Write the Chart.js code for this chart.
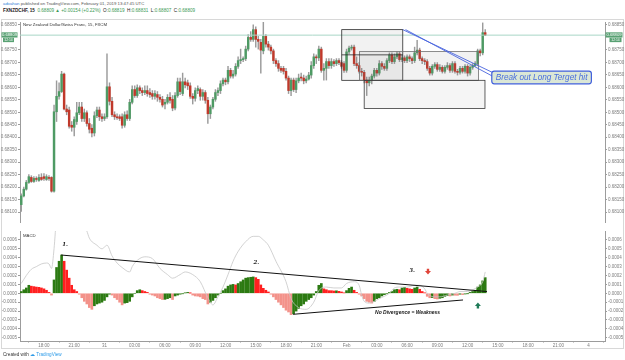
<!DOCTYPE html>
<html>
<head>
<meta charset="utf-8">
<script src="https://cdn.jsdelivr.net/npm/chart.js@4"></script>
<style>
  body { margin: 0; background: #fff; width: 625px; height: 360px; overflow: hidden; position: relative;
         font-family: "Liberation Sans", Arial, sans-serif; }
  .t { position: absolute; white-space: nowrap; line-height: 1; }
  #frame { position: absolute; left: 1px; top: 19px; width: 623px; height: 330px; border: 1px solid #d8d8d8; box-sizing: border-box; }
  canvas { position: absolute; left: 0; }
</style>
</head>
<body>
<div id="frame"></div>
<div class="t" style="left:3px;top:2px;font-size:4.3px;color:#555"><span style="color:#2f80d8">advahan</span> published on TradingView.com, February 01, 2019 13:47:45 UTC</div>
<div class="t" style="left:3px;top:9px;font-size:4.6px;color:#222"><b>FXNZDCHF, 15</b>&nbsp; <span style="color:#3c9a56">0.68809 ▲ +0.00154 (+0.22%)</span>&nbsp; O:<span style="color:#3c9a56">0.68819</span>&nbsp; H:<span style="color:#3c9a56">0.68831</span>&nbsp; L:<span style="color:#3c9a56">0.68807</span>&nbsp; C:<span style="color:#3c9a56">0.68809</span></div>
<canvas id="priceChart" width="625" height="212" style="top:19px"></canvas>
<canvas id="macdChart" width="625" height="122" style="top:230px"></canvas>
<div class="t" style="left:23px;top:23px;font-size:4.3px;color:#333">New Zealand Dollar/Swiss Franc, 15, FXCM</div>
<div class="t" style="left:23px;top:234px;font-size:4.3px;color:#333">MACD</div>
<div class="t" style="left:3px;top:353px;font-size:4.6px;color:#333">Created with <span style="color:#2e9be8">&#9729; TradingView</span></div>
<script>
/* NZDCHF 15m with MACD pane */

// time slots (15 min each), first slot = 30 Jan 15:45
let slots = Array.from({length: 232}, (_, i) => i);
let timeTickSlots = [9, 21, 33, 45, 57, 69, 81, 93, 105, 117, 129, 141, 153, 165, 177, 189, 201, 213, 225];
let timeTickLabels = ["18:00", "21:00", "31", "03:00", "06:00", "09:00", "12:00", "15:00", "18:00", "21:00",
  "Feb", "03:00", "06:00", "09:00", "12:00", "15:00", "18:00", "21:00", "4"];

let priceTicks = [0.681, 0.6815, 0.682, 0.6825, 0.683, 0.6835, 0.684, 0.6845, 0.685, 0.6855,
  0.686, 0.6865, 0.687, 0.6875, 0.6885];
let macdTicks = [-0.0005, -0.0004, -0.0003, -0.0002, -0.0001, 0, 0.0001, 0.0002, 0.0003, 0.0004, 0.0005, 0.0006];

let opens = [
  0.68130,0.68165,0.68192,0.68219,0.68239,0.68223,0.68235,0.68227,0.68239,0.68242,
  0.68231,0.68239,0.68239,0.68184,0.68502,0.68564,0.68583,0.68653,0.68513,0.68509,
  0.68448,0.68440,0.68463,0.68498,0.68521,0.68475,0.68498,0.68455,0.68436,0.68417,
  0.68486,0.68509,0.68482,0.68475,0.68482,0.68602,0.68544,0.68490,0.68482,0.68482,
  0.68482,0.68448,0.68490,0.68475,0.68540,0.68591,0.68567,0.68598,0.68587,0.68579,
  0.68587,0.68579,0.68575,0.68564,0.68571,0.68560,0.68552,0.68533,0.68540,0.68560,
  0.68552,0.68517,0.68567,0.68622,0.68575,0.68622,0.68618,0.68606,0.68564,0.68556,
  0.68587,0.68591,0.68564,0.68579,0.68548,0.68494,0.68521,0.68552,0.68579,0.68587,
  0.68614,0.68629,0.68622,0.68668,0.68645,0.68653,0.68684,0.68707,0.68711,0.68715,
  0.68753,0.68800,0.68792,0.68831,0.68792,0.68780,0.68746,0.68804,0.68773,0.68761,
  0.68746,0.68707,0.68695,0.68676,0.68676,0.68664,0.68637,0.68587,0.68629,0.68591,
  0.68626,0.68641,0.68637,0.68626,0.68633,0.68649,0.68687,0.68722,0.68718,0.68753,
  0.68668,0.68676,0.68703,0.68687,0.68703,0.68695,0.68707,0.68699,0.68695,0.68668,
  0.68742,0.68757,0.68761,0.68695,0.68687,0.68664,0.68660,0.68629,0.68618,0.68629,
  0.68645,0.68668,0.68657,0.68695,0.68684,0.68676,0.68707,0.68730,0.68703,0.68722,
  0.68734,0.68711,0.68718,0.68707,0.68722,0.68715,0.68707,0.68738,0.68749,0.68715,
  0.68707,0.68703,0.68676,0.68657,0.68684,0.68691,0.68672,0.68680,0.68664,0.68680,
  0.68687,0.68668,0.68695,0.68664,0.68660,0.68676,0.68664,0.68684,0.68657,0.68680,
  0.68687,0.68695,0.68746,0.68738,0.68819
];
let highs = [
  0.68173,0.68200,0.68227,0.68250,0.68246,0.68242,0.68242,0.68250,0.68254,0.68254,
  0.68250,0.68246,0.68242,0.68529,0.68626,0.68618,0.68664,0.68657,0.68529,0.68521,
  0.68463,0.68482,0.68540,0.68540,0.68540,0.68513,0.68506,0.68475,0.68451,0.68502,
  0.68521,0.68521,0.68494,0.68494,0.68734,0.68618,0.68560,0.68502,0.68494,0.68490,
  0.68494,0.68502,0.68506,0.68552,0.68606,0.68606,0.68610,0.68606,0.68598,0.68606,
  0.68606,0.68595,0.68587,0.68587,0.68583,0.68571,0.68564,0.68552,0.68571,0.68579,
  0.68567,0.68579,0.68637,0.68637,0.68657,0.68637,0.68629,0.68618,0.68575,0.68598,
  0.68606,0.68598,0.68591,0.68587,0.68560,0.68529,0.68560,0.68591,0.68598,0.68626,
  0.68637,0.68637,0.68684,0.68676,0.68668,0.68695,0.68722,0.68753,0.68722,0.68765,
  0.68811,0.68823,0.68850,0.68842,0.68804,0.68792,0.68862,0.68811,0.68784,0.68769,
  0.68753,0.68715,0.68707,0.68684,0.68684,0.68676,0.68645,0.68637,0.68637,0.68637,
  0.68653,0.68657,0.68649,0.68645,0.68660,0.68703,0.68734,0.68730,0.68765,0.68761,
  0.68695,0.68715,0.68715,0.68715,0.68711,0.68715,0.68715,0.68707,0.68703,0.68753,
  0.68765,0.68769,0.68769,0.68722,0.68699,0.68676,0.68668,0.68641,0.68641,0.68653,
  0.68676,0.68676,0.68707,0.68703,0.68695,0.68715,0.68738,0.68738,0.68734,0.68742,
  0.68742,0.68730,0.68726,0.68730,0.68730,0.68722,0.68761,0.68788,0.68757,0.68722,
  0.68715,0.68711,0.68684,0.68691,0.68699,0.68699,0.68691,0.68687,0.68687,0.68699,
  0.68695,0.68703,0.68703,0.68672,0.68684,0.68684,0.68691,0.68691,0.68687,0.68695,
  0.68703,0.68753,0.68753,0.68858,0.68831
];
let lows = [
  0.68103,0.68161,0.68188,0.68215,0.68219,0.68219,0.68223,0.68223,0.68227,0.68227,
  0.68227,0.68227,0.68180,0.68180,0.68463,0.68552,0.68579,0.68509,0.68490,0.68436,
  0.68424,0.68405,0.68451,0.68490,0.68463,0.68463,0.68444,0.68417,0.68401,0.68405,
  0.68478,0.68467,0.68463,0.68467,0.68475,0.68529,0.68482,0.68471,0.68471,0.68467,
  0.68436,0.68440,0.68467,0.68467,0.68533,0.68560,0.68560,0.68575,0.68567,0.68571,
  0.68564,0.68560,0.68552,0.68552,0.68544,0.68540,0.68521,0.68513,0.68533,0.68536,
  0.68506,0.68509,0.68560,0.68571,0.68567,0.68598,0.68591,0.68556,0.68533,0.68544,
  0.68575,0.68548,0.68548,0.68536,0.68455,0.68475,0.68513,0.68544,0.68567,0.68575,
  0.68606,0.68610,0.68614,0.68637,0.68637,0.68645,0.68676,0.68695,0.68703,0.68707,
  0.68746,0.68784,0.68784,0.68761,0.68753,0.68657,0.68734,0.68761,0.68749,0.68734,
  0.68695,0.68684,0.68664,0.68660,0.68653,0.68629,0.68575,0.68567,0.68583,0.68579,
  0.68618,0.68626,0.68614,0.68618,0.68629,0.68637,0.68676,0.68695,0.68707,0.68660,
  0.68629,0.68629,0.68676,0.68676,0.68684,0.68687,0.68691,0.68676,0.68660,0.68660,
  0.68734,0.68749,0.68687,0.68676,0.68657,0.68645,0.68618,0.68567,0.68606,0.68614,
  0.68637,0.68645,0.68649,0.68672,0.68668,0.68668,0.68699,0.68695,0.68695,0.68715,
  0.68703,0.68703,0.68699,0.68699,0.68703,0.68695,0.68699,0.68730,0.68707,0.68695,
  0.68691,0.68668,0.68649,0.68649,0.68676,0.68664,0.68664,0.68657,0.68657,0.68672,
  0.68660,0.68660,0.68657,0.68649,0.68653,0.68657,0.68657,0.68645,0.68649,0.68672,
  0.68684,0.68687,0.68726,0.68730,0.68807
];
let closes = [
  0.68165,0.68192,0.68219,0.68242,0.68223,0.68235,0.68231,0.68239,0.68231,0.68235,
  0.68242,0.68235,0.68184,0.68502,0.68564,0.68583,0.68653,0.68513,0.68502,0.68444,
  0.68440,0.68471,0.68498,0.68521,0.68475,0.68498,0.68455,0.68432,0.68417,0.68486,
  0.68509,0.68482,0.68475,0.68482,0.68602,0.68544,0.68490,0.68482,0.68478,0.68475,
  0.68448,0.68490,0.68475,0.68540,0.68591,0.68567,0.68598,0.68587,0.68579,0.68587,
  0.68575,0.68571,0.68564,0.68575,0.68560,0.68552,0.68529,0.68540,0.68560,0.68548,
  0.68517,0.68567,0.68622,0.68583,0.68622,0.68610,0.68606,0.68564,0.68556,0.68587,
  0.68595,0.68564,0.68579,0.68548,0.68494,0.68521,0.68552,0.68579,0.68587,0.68614,
  0.68629,0.68622,0.68668,0.68645,0.68653,0.68684,0.68707,0.68711,0.68715,0.68753,
  0.68800,0.68792,0.68831,0.68792,0.68784,0.68749,0.68804,0.68773,0.68761,0.68746,
  0.68707,0.68695,0.68676,0.68668,0.68664,0.68637,0.68587,0.68629,0.68591,0.68626,
  0.68637,0.68637,0.68626,0.68633,0.68649,0.68687,0.68722,0.68718,0.68753,0.68668,
  0.68676,0.68703,0.68687,0.68703,0.68695,0.68707,0.68699,0.68684,0.68668,0.68742,
  0.68757,0.68761,0.68695,0.68687,0.68664,0.68660,0.68629,0.68618,0.68629,0.68645,
  0.68668,0.68657,0.68695,0.68684,0.68676,0.68707,0.68730,0.68703,0.68722,0.68734,
  0.68711,0.68718,0.68707,0.68722,0.68715,0.68707,0.68738,0.68749,0.68715,0.68707,
  0.68703,0.68676,0.68657,0.68684,0.68691,0.68672,0.68680,0.68664,0.68680,0.68687,
  0.68668,0.68695,0.68664,0.68660,0.68676,0.68664,0.68684,0.68657,0.68680,0.68687,
  0.68695,0.68746,0.68738,0.68819,0.68809
];

let macdHist = [
  0.00002,0.00004,0.00006,0.00009,0.00008,0.000075,0.00007,0.000067,0.00006,0.00005,
  0.000034,0.00001,-0.00002,0.00015,0.00029,0.00036,0.00043,0.00036,0.00026,0.00017,
  0.00009,0.00004,0.00002,-0.00001,-0.00005,-0.00009,-0.00012,-0.00016,-0.00018,-0.00014,
  -0.00012,-0.00011,-0.0001,-0.00008,-0.00004,-0.00001,-0.00002,-0.00005,-0.00007,-0.0001,
  -0.00013,-0.00011,-0.000105,-0.00009,-0.00004,0,0.00003,0.00004,0.00003,0.00002,
  0.00001,-0.00001,-0.00002,-0.00003,-0.00005,-0.00006,-0.00007,-0.000068,-0.00006,-0.00005,
  -0.00007,-0.00003,-0.00002,-0.00001,-0.000004,0.000004,0.00001,0.000002,-0.00002,-0.00003,
  -0.000032,-0.00004,-0.00006,-0.00007,-0.00012,-0.0001,-0.00008,-0.00005,-0.00002,0,
  0.00003,0.00005,0.00008,0.000094,0.0001,0.000094,0.00011,0.00013,0.00015,0.00017,
  0.000176,0.00018,0.000184,0.000176,0.000157,0.000094,0.000056,0.000034,0.000015,-0.00001,
  -0.00004,-0.00007,-0.0001,-0.00013,-0.00016,-0.00019,-0.00021,-0.00024,-0.00023,-0.0002,
  -0.00017,-0.00014,-0.00012,-0.00009,-0.00007,-0.00005,-0.00002,0.00002,0.00009,0.00011,
  0.00005,0.00004,0.00003,0.000029,0.000026,0.000028,0.000022,0.000015,0.000004,0.00003,
  0.000056,0.00007,0.000034,0.00001,-0.00001,-0.00003,-0.00006,-0.00009,-0.0001,-0.00011,
  -0.00009,-0.00006,-0.00005,-0.00003,-0.000015,-0.000004,0.00001,0.00002,0.00004,0.000045,
  0.00004,0.00006,0.000067,0.000056,0.00005,0.000045,0.00006,0.00007,0.000045,0.00002,
  0.000004,-0.000034,-0.00005,-0.000048,-0.00006,-0.000064,-0.000056,-0.00005,-0.000034,-0.000026,
  -0.00003,-0.00002,-0.000022,-0.000023,-0.00001,-0.000015,-0.000008,-0.000003,0.00001,0.00002,
  0.000034,0.00007,0.000094,0.00014,0.000176
];

// grey MACD line, read at these slots
let macdLineSlots = [0, 2, 4, 6, 8, 10, 11, 12, 13, 14, 16, 18, 20, 22, 24, 26, 27, 30, 32, 33, 34, 36, 38, 40,
  43, 44, 46, 49, 52, 55, 58, 60, 63, 65, 68, 71, 74, 76, 78, 80, 82, 84, 86, 89, 92, 94, 96, 98, 101, 105,
  107, 110, 113, 116, 118, 121, 124, 127, 129, 132, 134, 135, 136, 138, 140, 142, 146, 148, 150, 153, 156,
  158, 160, 161, 164, 166, 169, 172, 174, 177, 179, 181, 183, 184];
let macdLineValues = [0.00011, 0.0002, 0.00027, 0.0003, 0.00033, 0.00034, 0.00033, 0.00028, 0.0005, 0.00085,
  0.001, 0.00105, 0.001, 0.0009, 0.0008, 0.0007, 0.00062, 0.00054, 0.0005, 0.00052, 0.00054, 0.00042, 0.00034,
  0.00029, 0.00024, 0.0003, 0.00037, 0.00041, 0.00039, 0.00028, 0.00021, 0.00017, 0.00021, 0.00024, 0.00021,
  0.00013, -0.00005, -0.00013, -0.00004, 0.00007, 0.00021, 0.00036, 0.00047, 0.00058, 0.00064, 0.00064, 0.0006,
  0.00054, 0.00036, 0.00013, -0.00006, -0.00016, -0.00018, -0.0001, 0.00003, 0.00007, 0.00006, 0.00006, 0.00011,
  0.00013, 0.00009, -0.00002, -0.00009, -0.00011, -0.00009, -0.00006, 0, 0.00006, 0.00007, 0.00007, 0.00009,
  0.00009, 0.00005, 0, -0.00004, -0.00004, -0.00002, 0, 0.00002, 0.00002, 0.00004, 0.00007, 0.00013, 0.00024];

// drawings, in slot / value coordinates
let priceBoxes = [
  {x0: 127.1, x1: 151.3, y0: 0.68831, y1: 0.68628, fill: "rgba(110,110,110,0.09)", stroke: "#2a2a2a"},
  {x0: 134.1, x1: 181.3, y0: 0.68743, y1: 0.68628, fill: "rgba(110,110,110,0.09)", stroke: "#707070"},
  {x0: 136.0, x1: 183.9, y0: 0.68628, y1: 0.68515, fill: "rgba(110,110,110,0.07)", stroke: "#3a3a3a"}
];
let calloutText = "Break out Long Terget hit";
let macdNotes = ["1.", "2.", "3."];
let divergenceText = "No Divergence = Weakness";

let axisFont = {family: "'Liberation Sans', Arial, sans-serif", size: 4.5};
let green = "#4e9a64", red = "#c0392b";

function candleColor(i) {
  return closes[i] >= opens[i] ? green : red;
}

function histColor(i) {
  let v = macdHist[i];
  let prev = i > 0 ? macdHist[i - 1] : 0;
  if (v >= prev) return "#2c7a12";
  return v >= 0 ? "#ff2020" : "#f3928a";
}

function squeeze(w) {
  return function (s) {
    s.width = w;
    s.paddingTop = 0;
    s.paddingBottom = 0;
  };
}

function valueAxis(position, min, max, ticks, digits) {
  return {
    type: "linear",
    position: position,
    min: min,
    max: max,
    afterBuildTicks: (s) => { s.ticks = ticks.map((v) => ({value: v})); },
    afterFit: squeeze(20),
    border: {color: "#9c9c9c"},
    grid: {display: true, drawOnChartArea: false, tickLength: 2, color: "#9c9c9c"},
    ticks: {font: axisFont, color: "#7c7c7c", padding: 1, callback: (v) => v.toFixed(digits)}
  };
}

function timeAxis(show) {
  return {
    type: "category",
    labels: slots,
    offset: true,
    display: show,
    afterBuildTicks: (s) => { s.ticks = timeTickSlots.map((v) => ({value: v})); },
    afterFit: (s) => { s.height = 7; s.paddingLeft = 0; s.paddingRight = 0; },
    border: {color: "#9c9c9c"},
    grid: {display: true, drawOnChartArea: false, tickLength: 1.5, color: "#9c9c9c"},
    ticks: {font: axisFont, color: "#7c7c7c", padding: 0.5, autoSkip: false, maxRotation: 0,
      callback: (v, idx) => timeTickLabels[idx]}
  };
}

function px(chart, slot) { return chart.scales.x.getPixelForValue(slot); }
function py(chart, v) { return chart.scales.y.getPixelForValue(v); }

function roundBox(ctx, x, y, w, h, r) {
  ctx.beginPath();
  ctx.moveTo(x + r, y);
  ctx.arcTo(x + w, y, x + w, y + h, r);
  ctx.arcTo(x + w, y + h, x, y + h, r);
  ctx.arcTo(x, y + h, x, y, r);
  ctx.arcTo(x, y, x + w, y, r);
  ctx.closePath();
}

function priceTag(ctx, x, y, w, text, size) {
  ctx.fillStyle = "#58a173";
  ctx.fillRect(x, y, w, size + 1);
  ctx.fillStyle = "#fff";
  ctx.font = size + "px 'Liberation Sans', Arial, sans-serif";
  ctx.textAlign = "center";
  ctx.textBaseline = "middle";
  ctx.fillText(text, x + w / 2, y + (size + 1) / 2 + 0.3);
}

let pricePane = {
  id: "pricePane",
  afterDatasetsDraw(chart) {
    let ctx = chart.ctx, a = chart.chartArea;
    ctx.save();
    ctx.beginPath();
    ctx.rect(a.left, a.top, a.right - a.left, a.bottom - a.top);
    ctx.clip();

    let last = py(chart, closes[closes.length - 1]);
    ctx.strokeStyle = "#a8d6c6";
    ctx.lineWidth = 1;
    ctx.beginPath();
    ctx.moveTo(a.left, last);
    ctx.lineTo(a.right, last);
    ctx.stroke();

    priceBoxes.forEach((b) => {
      let x0 = px(chart, b.x0), x1 = px(chart, b.x1);
      let y0 = py(chart, b.y0), y1 = py(chart, b.y1);
      ctx.fillStyle = b.fill;
      ctx.fillRect(x0, y0, x1 - x0, y1 - y0);
      ctx.strokeStyle = b.stroke;
      ctx.lineWidth = 0.8;
      ctx.strokeRect(x0, y0, x1 - x0, y1 - y0);
    });
    ctx.strokeStyle = "#2a2a2a";
    ctx.beginPath();
    ctx.moveTo(px(chart, 127.1), py(chart, 0.6873));
    ctx.lineTo(px(chart, 151.3), py(chart, 0.6873));
    ctx.stroke();

    // callout with its two leader lines
    ctx.strokeStyle = "#4763de";
    ctx.lineWidth = 0.9;
    ctx.beginPath();
    ctx.moveTo(px(chart, 151.3), py(chart, 0.68831));
    ctx.lineTo(px(chart, 186.8), py(chart, 0.68660));
    ctx.moveTo(px(chart, 152.4), py(chart, 0.68831));
    ctx.lineTo(px(chart, 186.8), py(chart, 0.68645));
    ctx.stroke();

    let cx0 = px(chart, 186.6), cx1 = px(chart, 226.1);
    let cy0 = py(chart, 0.68665), cy1 = py(chart, 0.68614);
    roundBox(ctx, cx0, cy0, cx1 - cx0, cy1 - cy0, 2.5);
    ctx.fillStyle = "#dbe7d6";
    ctx.fill();
    ctx.strokeStyle = "#4160dc";
    ctx.lineWidth = 1.2;
    ctx.stroke();
    ctx.fillStyle = "#4a6fdc";
    ctx.font = "italic 8.2px 'Liberation Sans', Arial, sans-serif";
    ctx.textAlign = "center";
    ctx.textBaseline = "middle";
    ctx.fillText(calloutText, (cx0 + cx1) / 2, (cy0 + cy1) / 2 + 0.3);
    ctx.restore();
  },
  afterDraw(chart) {
    let ctx = chart.ctx, a = chart.chartArea;
    let last = py(chart, closes[closes.length - 1]);
    ctx.save();
    priceTag(ctx, 1.5, last - 2.8, 16, closes[closes.length - 1].toFixed(5), 4.2);
    priceTag(ctx, 3, last + 2.6, 11, "12:14", 3.4);
    priceTag(ctx, a.right + 0.5, last - 2.8, 17, closes[closes.length - 1].toFixed(5), 4.2);
    priceTag(ctx, a.right + 4.5, last + 2.6, 12, "12:14", 3.4);
    ctx.restore();
  }
};

let macdPane = {
  id: "macdPane",
  afterDatasetsDraw(chart) {
    let ctx = chart.ctx;
    ctx.save();
    ctx.strokeStyle = "#111";
    ctx.lineWidth = 1;
    ctx.beginPath();
    ctx.moveTo(px(chart, 15.8), py(chart, 0.00043));
    ctx.lineTo(px(chart, 184.7), py(chart, 0.00002));
    ctx.moveTo(px(chart, 107.8), py(chart, -0.000236));
    ctx.lineTo(px(chart, 175.2), py(chart, -0.000075));
    ctx.stroke();

    ctx.fillStyle = "#222";
    ctx.font = "bold italic 5.5px 'DejaVu Serif', serif";
    ctx.textAlign = "center";
    ctx.textBaseline = "middle";
    ctx.fillText(macdNotes[0], px(chart, 17.4), py(chart, 0.00055));
    ctx.fillText(macdNotes[1], px(chart, 93.2), py(chart, 0.00034));
    ctx.fillText(macdNotes[2], px(chart, 155.0), py(chart, 0.00026));

    ctx.font = "bold italic 5px 'Liberation Sans', Arial, sans-serif";
    ctx.fillStyle = "#1a1a1a";
    ctx.fillText(divergenceText, px(chart, 153.2), py(chart, -0.00022));

    // red marker pointing down
    let rx = px(chart, 161.3), ry = py(chart, 0.00024);
    ctx.fillStyle = "#e0453a";
    ctx.beginPath();
    ctx.moveTo(rx - 1.2, ry - 3.2);
    ctx.lineTo(rx + 1.2, ry - 3.2);
    ctx.lineTo(rx + 1.2, ry - 1);
    ctx.lineTo(rx + 3, ry - 1);
    ctx.lineTo(rx, ry + 2.6);
    ctx.lineTo(rx - 3, ry - 1);
    ctx.lineTo(rx - 1.2, ry - 1);
    ctx.closePath();
    ctx.fill();

    // green marker pointing up
    let gx = px(chart, 181.1), gy = py(chart, -0.000137);
    ctx.fillStyle = "#1f7b58";
    ctx.beginPath();
    ctx.moveTo(gx, gy - 3);
    ctx.lineTo(gx + 3, gy + 0.6);
    ctx.lineTo(gx + 1.2, gy + 0.6);
    ctx.lineTo(gx + 1.2, gy + 3);
    ctx.lineTo(gx - 1.2, gy + 3);
    ctx.lineTo(gx - 1.2, gy + 0.6);
    ctx.lineTo(gx - 3, gy + 0.6);
    ctx.closePath();
    ctx.fill();
    ctx.restore();
  }
};

let baseOptions = {
  responsive: false,
  animation: false,
  events: [],
  plugins: {legend: {display: false}, tooltip: {enabled: false}}
};

new Chart("priceChart", {
  type: "bar",
  data: {
    labels: slots,
    datasets: [
      {
        label: "bodies",
        data: opens.map((o, i) => [o, closes[i]]),
        backgroundColor: opens.map((o, i) => candleColor(i)),
        barThickness: 1.8,
        minBarLength: 0.8,
        grouped: false,
        order: 0
      },
      {
        label: "wicks",
        data: lows.map((l, i) => [l, highs[i]]),
        backgroundColor: "#9b9b9b",
        barThickness: 0.8,
        grouped: false,
        order: 1
      }
    ]
  },
  options: Object.assign({}, baseOptions, {
    layout: {padding: {top: 3, bottom: 2, left: 0, right: 0}},
    scales: {
      x: timeAxis(false),
      yl: valueAxis("left", 0.680605, 0.688616, priceTicks, 5),
      y: valueAxis("right", 0.680605, 0.688616, priceTicks, 5)
    }
  }),
  plugins: [pricePane]
});

let macdLine = slots.map(() => null);
macdLineSlots.forEach((s, k) => { macdLine[s] = macdLineValues[k]; });

new Chart("macdChart", {
  type: "bar",
  data: {
    labels: slots,
    datasets: [
      {
        type: "line",
        label: "MACD",
        data: macdLine,
        spanGaps: true,
        borderColor: "#c6c6c6",
        borderWidth: 0.8,
        pointRadius: 0,
        cubicInterpolationMode: "monotone",
        order: 0
      },
      {
        label: "Histogram",
        data: macdHist,
        backgroundColor: macdHist.map((v, i) => histColor(i)),
        barThickness: 2,
        grouped: false,
        order: 1
      }
    ]
  },
  options: Object.assign({}, baseOptions, {
    layout: {padding: {top: 1, bottom: 4, left: 0, right: 0}},
    scales: {
      x: timeAxis(true),
      yl: valueAxis("left", -0.000536, 0.0007, macdTicks, 4),
      y: valueAxis("right", -0.000536, 0.0007, macdTicks, 4)
    }
  }),
  plugins: [macdPane]
});
</script>
</body>
</html>
